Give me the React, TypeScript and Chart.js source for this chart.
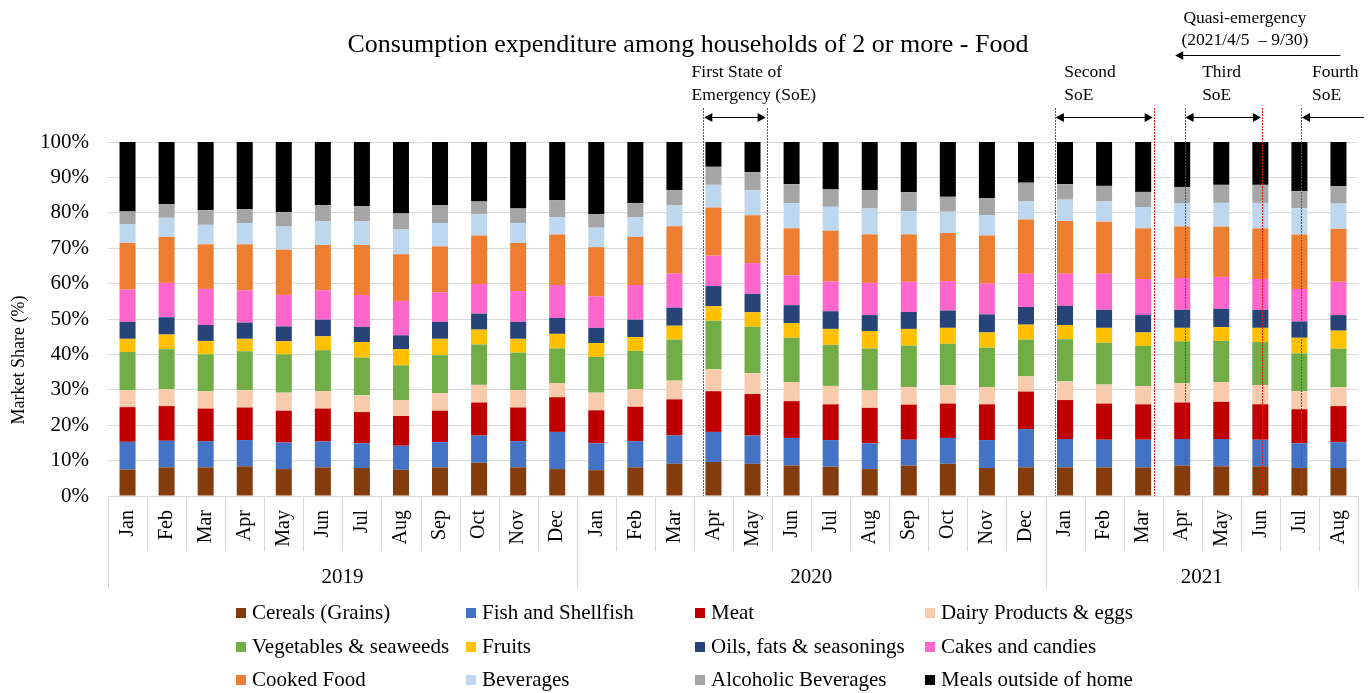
import React, { useEffect, useRef } from 'react';
import { Chart, registerables } from 'chart.js';

Chart.register(...registerables);

const FONT = '"Liberation Serif", "Times New Roman", serif';
const TITLE = 'Consumption expenditure among households of 2 or more - Food';

const monthLabels = [
  'Jan', 'Feb', 'Mar', 'Apr', 'May', 'Jun', 'Jul', 'Aug', 'Sep', 'Oct', 'Nov', 'Dec',
  'Jan', 'Feb', 'Mar', 'Apr', 'May', 'Jun', 'Jul', 'Aug', 'Sep', 'Oct', 'Nov', 'Dec',
  'Jan', 'Feb', 'Mar', 'Apr', 'May', 'Jun', 'Jul', 'Aug',
];
const years = ['2019', '2020', '2021'];
const monthsPerYear = [12, 12, 8];
const yTicks = [0, 10, 20, 30, 40, 50, 60, 70, 80, 90, 100];

const cereals = [7.5, 8.1, 8.1, 8.4, 7.6, 8.1, 7.9, 7.4, 8.1, 9.4, 8.1, 7.6, 7.3, 8.1, 9.1, 9.6, 9.1, 8.6, 8.3, 7.6, 8.6, 9.1, 7.9, 8.1, 8.1, 8.1, 8.1, 8.6, 8.4, 8.4, 7.9, 7.9];
const fish = [7.8, 7.5, 7.4, 7.4, 7.5, 7.3, 7.0, 6.8, 7.1, 7.7, 7.4, 10.5, 7.6, 7.4, 8.0, 8.5, 8.0, 7.8, 7.5, 7.3, 7.3, 7.3, 7.9, 10.8, 8.0, 7.8, 7.8, 7.5, 7.7, 7.5, 7.0, 7.3];
const meat = [9.8, 9.8, 9.2, 9.2, 9.0, 9.3, 8.8, 8.4, 8.9, 9.3, 9.5, 9.8, 9.3, 9.7, 10.2, 11.5, 11.7, 10.4, 10.1, 10.0, 9.9, 9.7, 10.1, 10.6, 11.0, 10.2, 10.0, 10.3, 10.5, 10.0, 9.6, 10.2];
const dairy = [4.8, 4.8, 4.9, 4.9, 5.1, 4.9, 4.8, 4.5, 4.9, 5.0, 4.9, 4.0, 5.0, 5.0, 5.3, 6.2, 5.9, 5.4, 5.2, 4.9, 5.0, 5.2, 4.9, 4.3, 5.3, 5.4, 5.1, 5.5, 5.6, 5.4, 5.1, 5.3];
const vegetables = [10.8, 11.3, 10.4, 11.0, 10.8, 11.6, 10.6, 9.8, 10.8, 11.4, 10.6, 9.8, 10.1, 10.8, 11.6, 13.7, 13.1, 12.5, 11.6, 11.9, 11.7, 11.7, 11.1, 10.4, 11.9, 11.8, 11.4, 11.8, 11.6, 12.2, 10.7, 10.9];
const fruits = [3.7, 4.1, 3.8, 3.5, 3.7, 3.9, 4.4, 4.6, 4.6, 4.2, 3.9, 4.1, 3.9, 3.9, 3.9, 4.1, 4.1, 4.1, 4.5, 4.9, 4.7, 4.5, 4.3, 4.2, 4.0, 4.2, 3.8, 3.8, 3.9, 4.0, 4.4, 5.1];
const oils = [4.8, 4.9, 4.5, 4.6, 4.2, 4.7, 4.3, 3.9, 4.8, 4.5, 4.8, 4.5, 4.3, 4.9, 5.1, 5.7, 5.2, 5.1, 5.0, 4.5, 4.8, 4.9, 5.1, 5.0, 5.4, 5.1, 4.9, 5.1, 5.2, 5.1, 4.6, 4.4];
const cakes = [9.1, 9.7, 10.2, 9.1, 8.9, 8.3, 9.0, 9.7, 8.3, 8.4, 8.7, 9.3, 8.9, 9.8, 9.6, 8.6, 8.7, 8.4, 8.4, 9.1, 8.5, 8.3, 8.7, 9.4, 9.1, 10.2, 10.2, 9.0, 9.0, 8.7, 9.2, 9.4];
const cooked = [13.2, 13.0, 12.6, 13.0, 12.8, 12.8, 14.1, 13.2, 13.0, 13.7, 13.6, 14.3, 13.9, 13.6, 13.4, 13.6, 13.5, 13.3, 14.3, 13.7, 13.4, 13.6, 13.6, 15.3, 14.9, 14.7, 14.3, 14.5, 14.2, 14.3, 15.4, 15.0];
const beverages = [5.3, 5.4, 5.5, 6.0, 6.5, 6.7, 6.7, 7.1, 6.6, 6.0, 5.5, 4.9, 5.5, 5.6, 6.0, 6.4, 7.1, 7.1, 6.8, 7.3, 6.6, 6.0, 5.7, 5.1, 6.0, 5.7, 5.9, 6.5, 6.7, 7.2, 7.4, 7.1];
const alcohol = [3.6, 3.9, 4.1, 3.9, 4.1, 4.6, 4.3, 4.4, 5.1, 3.6, 4.2, 4.8, 3.8, 3.9, 4.2, 5.1, 5.1, 5.4, 4.9, 5.2, 5.3, 4.2, 4.8, 5.3, 4.4, 4.4, 4.4, 4.6, 5.1, 5.1, 4.8, 4.9];
const mealsOut = [19.6, 17.5, 19.3, 19.0, 19.8, 17.8, 18.1, 20.2, 17.8, 16.8, 18.8, 16.4, 20.4, 17.3, 13.6, 7.0, 8.5, 11.9, 13.4, 13.6, 14.2, 15.5, 15.9, 11.5, 11.9, 12.4, 14.1, 12.8, 12.1, 12.1, 13.9, 12.5];

const seriesNames = [
  'Cereals (Grains)', 'Fish and Shellfish', 'Meat', 'Dairy Products & eggs',
  'Vegetables & seaweeds', 'Fruits', 'Oils, fats & seasonings', 'Cakes and candies',
  'Cooked Food', 'Beverages', 'Alcoholic Beverages', 'Meals outside of home',
];
const seriesValues = [cereals, fish, meat, dairy, vegetables, fruits, oils, cakes, cooked, beverages, alcohol, mealsOut];
const seriesColors = [
  '#843C0C', '#4472C4', '#C00000', '#F8CBAD',
  '#70AD47', '#FFC000', '#264478', '#FF66CC',
  '#ED7D31', '#BDD7EE', '#A5A5A5', '#000000',
];

// State-of-emergency periods as fractional month positions (0 = Jan 2019)
const soePeriods = [
  { lines: ['First State of', 'Emergency (SoE)'], textAt: 14.44, start: 14.74, end: 16.36 },
  { lines: ['Second', 'SoE'], textAt: 23.98, start: 23.74, end: 26.27 },
  { lines: ['Third', 'SoE'], textAt: 27.51, start: 27.06, end: 29.04 },
  { lines: ['Fourth', 'SoE'], textAt: 30.32, start: 30.04, end: null },
];
const quasi = { lines: ['Quasi-emergency', '(2021/4/5  \u2013 9/30)'], textAt: 27.03, from: 31.05, to: 26.82 };

function arrowHead(ctx: CanvasRenderingContext2D, x: number, y: number, dir: number) {
  ctx.beginPath();
  ctx.moveTo(x, y);
  ctx.lineTo(x - dir * 8, y - 4.5);
  ctx.lineTo(x - dir * 8, y + 4.5);
  ctx.closePath();
  ctx.fill();
}

const overlayPlugin = {
  id: 'overlay',
  afterDraw(chart: any) {
    const ctx: CanvasRenderingContext2D = chart.ctx;
    const xs = chart.scales.x;
    const area = chart.chartArea;
    const p0 = xs.getPixelForValue(0);
    const cw = xs.getPixelForValue(1) - p0;
    const px = (p: number) => p0 + p * cw;
    ctx.save();

    // Title
    ctx.fillStyle = '#000';
    ctx.font = `26px ${FONT}`;
    ctx.textAlign = 'center';
    ctx.textBaseline = 'middle';
    ctx.fillText(TITLE, 688, 45);

    // Y axis title
    ctx.save();
    ctx.translate(19, 360);
    ctx.rotate(-Math.PI / 2);
    ctx.font = `18px ${FONT}`;
    ctx.fillText('Market Share (%)', 0, 0);
    ctx.restore();

    // Category axis separators
    ctx.strokeStyle = '#d9d9d9';
    ctx.lineWidth = 1;
    const n = monthLabels.length;
    const yearBounds = new Set<number>();
    let acc = 0;
    yearBounds.add(0);
    monthsPerYear.forEach((m) => { acc += m; yearBounds.add(acc); });
    for (let i = 0; i <= n; i++) {
      const bx = Math.round(px(i - 0.5)) + 0.5;
      const len = yearBounds.has(i) ? 92 : 55;
      ctx.beginPath();
      ctx.moveTo(bx, area.bottom);
      ctx.lineTo(bx, area.bottom + len);
      ctx.stroke();
    }
    ctx.beginPath();
    ctx.moveTo(area.left, Math.round(area.bottom) + 0.5);
    ctx.lineTo(area.right, Math.round(area.bottom) + 0.5);
    ctx.stroke();

    // Year labels
    ctx.font = `21px ${FONT}`;
    ctx.fillStyle = '#000';
    let start = 0;
    years.forEach((yr, i) => {
      const end = start + monthsPerYear[i];
      const cx = (px(start - 0.5) + px(end - 0.5)) / 2;
      ctx.fillText(yr, cx, 577);
      start = end;
    });

    // SoE red dotted lines
    ctx.strokeStyle = '#FF1010';
    ctx.lineWidth = 1;
    ctx.setLineDash([2, 1]);
    soePeriods.forEach((s) => {
      [s.start, s.end].forEach((v) => {
        if (v === null) return;
        const lx = Math.round(px(v)) + 0.5;
        ctx.beginPath();
        ctx.moveTo(lx, 108);
        ctx.lineTo(lx, area.bottom);
        ctx.stroke();
      });
    });
    ctx.setLineDash([]);

    // Arrows
    ctx.strokeStyle = '#000';
    ctx.fillStyle = '#000';
    ctx.lineWidth = 1;
    const ay = 117.5;
    soePeriods.forEach((s) => {
      const a = px(s.start);
      const b = s.end === null ? chart.width - 3 : px(s.end);
      ctx.beginPath();
      ctx.moveTo(a + 2, ay);
      ctx.lineTo(b - 2, ay);
      ctx.stroke();
      arrowHead(ctx, a + 1, ay, -1);
      if (s.end !== null) arrowHead(ctx, b - 1, ay, 1);
    });
    const qy = 55.5;
    ctx.beginPath();
    ctx.moveTo(px(quasi.from), qy);
    ctx.lineTo(px(quasi.to) + 2, qy);
    ctx.stroke();
    arrowHead(ctx, px(quasi.to), qy, -1);

    // Annotation texts
    ctx.font = `17.5px ${FONT}`;
    ctx.textAlign = 'left';
    ctx.textBaseline = 'middle';
    soePeriods.forEach((s) => {
      ctx.fillText(s.lines[0], px(s.textAt), 72);
      ctx.fillText(s.lines[1], px(s.textAt), 95);
    });
    ctx.fillText(quasi.lines[0], px(quasi.textAt), 18);
    ctx.fillText(quasi.lines[1], px(quasi.textAt) - 2, 40);

    // Legend
    const colX = [236, 466, 695, 925];
    const rowY = [613, 647, 680];
    ctx.font = `21px ${FONT}`;
    chart.data.datasets.forEach((ds: any, i: number) => {
      const cx = colX[i % 4];
      const cy = rowY[Math.floor(i / 4)];
      ctx.fillStyle = ds.backgroundColor;
      ctx.fillRect(cx, cy - 5, 10, 10);
      ctx.fillStyle = '#000';
      ctx.fillText(ds.label, cx + 16, cy);
    });

    ctx.restore();
  },
};

export default function App() {
  const ref = useRef<HTMLCanvasElement>(null);
  useEffect(() => {
    if (!ref.current) return;
    const chart = new Chart(ref.current, {
      type: 'bar',
      data: {
        labels: monthLabels,
        datasets: seriesNames.map((name, i) => ({
          label: name,
          data: seriesValues[i],
          backgroundColor: seriesColors[i],
          borderWidth: 0,
          barPercentage: 0.41,
          categoryPercentage: 1,
        })),
      },
      options: {
        responsive: false,
        animation: false,
        layout: { padding: { top: 142, right: 11, bottom: 0, left: 0 } },
        plugins: {
          legend: { display: false },
          title: { display: false },
          tooltip: { enabled: false },
        },
        scales: {
          x: {
            stacked: true,
            grid: { display: false, drawTicks: false },
            border: { display: false },
            ticks: {
              autoSkip: false,
              minRotation: 90,
              maxRotation: 90,
              padding: 14,
              color: '#000',
              font: { family: FONT, size: 20 },
            },
            afterFit: (s: any) => {
              s.height = 197;
              s.paddingLeft = 0;
              s.paddingRight = 0;
            },
          },
          y: {
            stacked: true,
            min: 0,
            max: 100,
            afterBuildTicks: (s: any) => { s.ticks = yTicks.map((v) => ({ value: v })); },
            grid: { color: '#d9d9d9', lineWidth: 1, drawTicks: false },
            border: { display: false },
            ticks: {
              padding: 19,
              color: '#000',
              font: { family: FONT, size: 21 },
              callback: (v: any) => `${v}%`,
            },
            afterFit: (s: any) => {
              s.width = 108;
              s.paddingTop = 0;
              s.paddingBottom = 0;
            },
          },
        },
      },
      plugins: [overlayPlugin],
    });
    return () => chart.destroy();
  }, []);
  return (
    <div style={{ position: 'fixed', left: 0, top: 0, width: 1369, height: 693, background: '#fff' }}>
      <canvas ref={ref} width={1369} height={693} style={{ display: 'block' }} />
    </div>
  );
}
